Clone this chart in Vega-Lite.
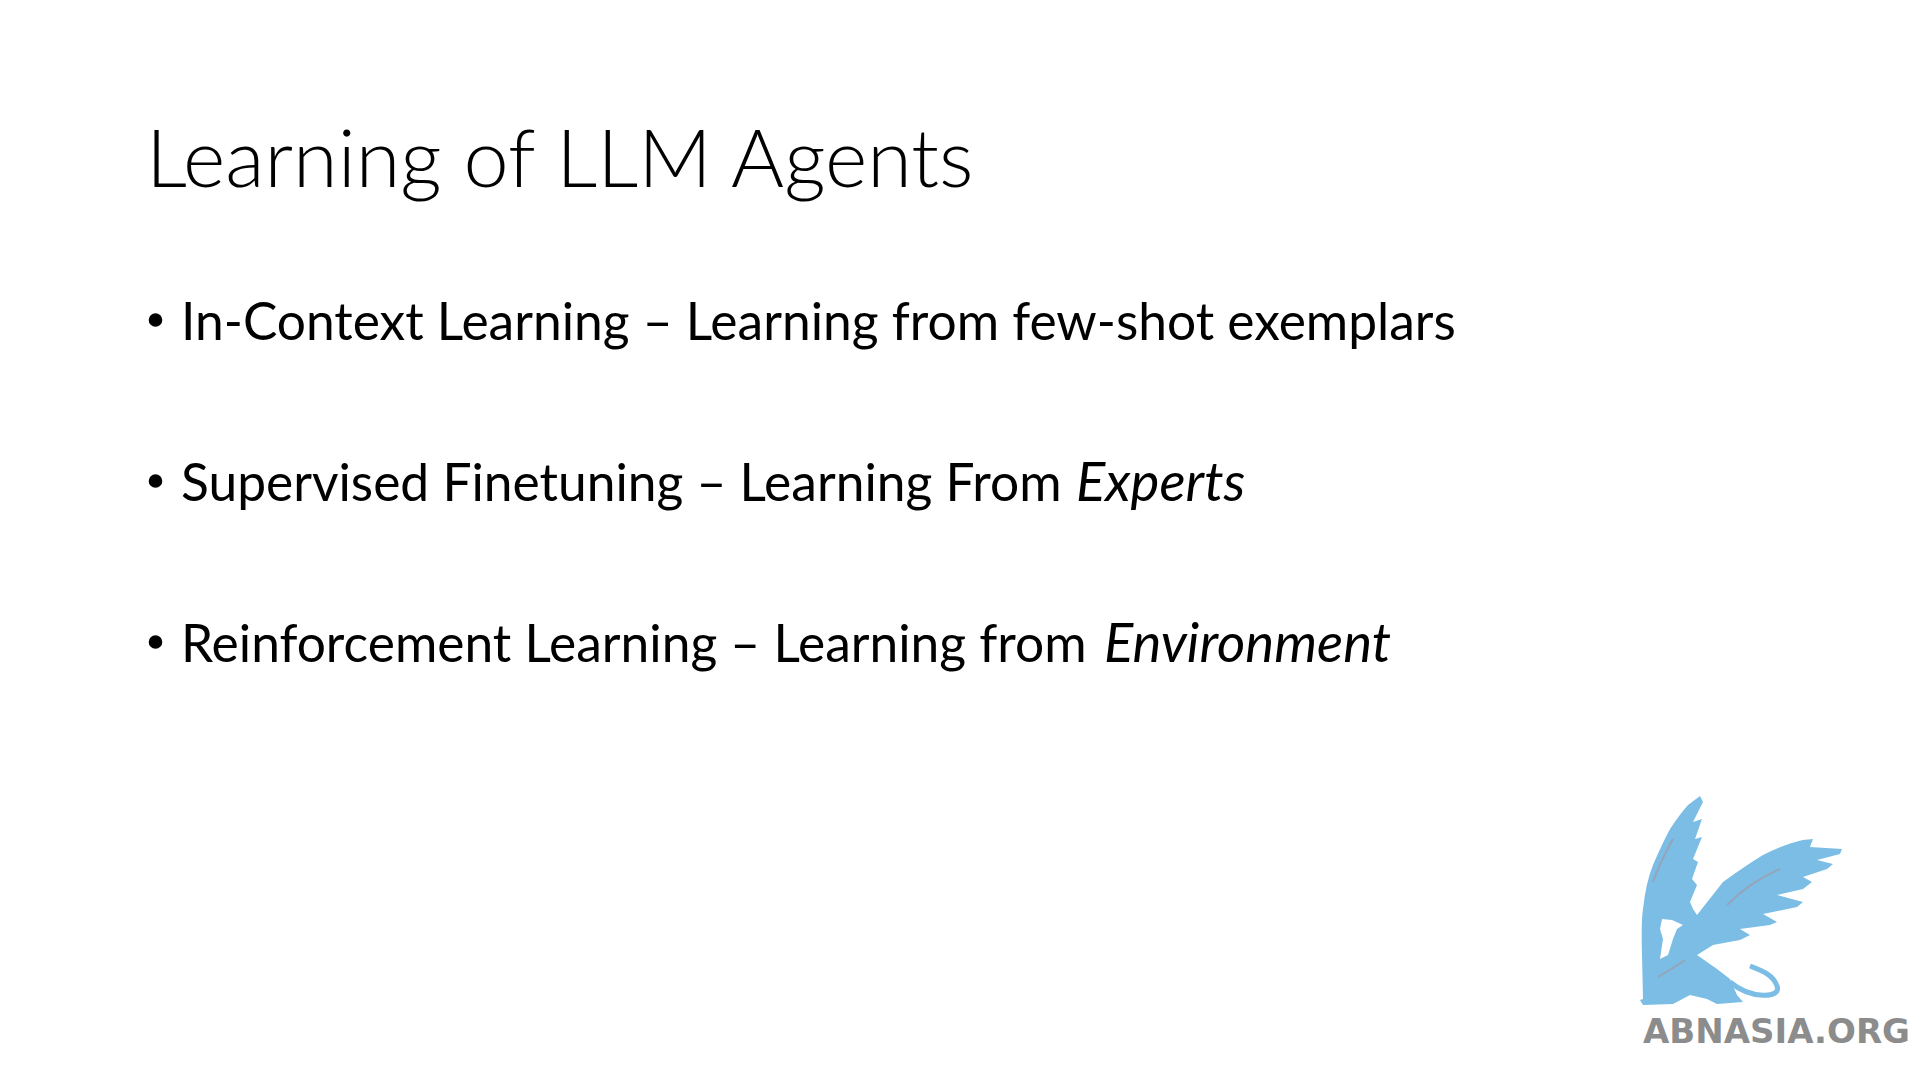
{
  "$schema": "https://vega.github.io/schema/vega-lite/v6.json",
  "width": 1920,
  "height": 1080,
  "autosize": {"type": "fit", "contains": "padding"},
  "padding": 0,
  "background": "#ffffff",
  "config": {"view": {"stroke": null}},
  "data": {
    "values": [
      {"kind": "title", "t": "Learning of LLM Agents", "x": 146, "y": 187},
      {"kind": "bullet", "t": "•", "x": 155.5, "y": 320},
      {"kind": "bullet", "t": "•", "x": 155.5, "y": 481},
      {"kind": "bullet", "t": "•", "x": 155.5, "y": 642},
      {"kind": "body", "t": "In-Context Learning – Learning from few-shot exemplars", "x": 181, "y": 340},
      {"kind": "body", "t": "Supervised Finetuning – Learning From", "x": 181, "y": 501},
      {"kind": "italic", "t": "Experts", "x": 1076, "y": 501},
      {"kind": "body", "t": "Reinforcement Learning – Learning from", "x": 181, "y": 662},
      {"kind": "italic", "t": "Environment", "x": 1104, "y": 662},
      {"kind": "wm", "t": "ABNASIA.ORG", "x": 1643, "y": 1043},
      {"kind": "logo", "t": "griffin", "x": 1740, "y": 902},
      {"kind": "tail", "t": "tail", "x": 1740, "y": 902},
      {"kind": "head", "t": "head", "x": 1740, "y": 902},
      {"kind": "streak", "t": "streak", "x": 1740, "y": 902}
    ]
  },
  "encoding": {
    "x": {"field": "x", "type": "quantitative", "scale": {"domain": [0, 1920], "nice": false, "zero": false}, "axis": null},
    "y": {"field": "y", "type": "quantitative", "scale": {"domain": [1080, 0], "nice": false, "zero": false}, "axis": null}
  },
  "layer": [
    {
      "transform": [{"filter": "datum.kind == 'logo'"}],
      "mark": {"type": "point", "filled": true, "fill": "#7bbde4", "opacity": 1, "strokeWidth": 0, "size": 40000,
        "shape": "M -0.97 0.97 L -0.98 0.53 Q -0.99 0.2 -0.97 0.07 Q -0.94 -0.2 -0.87 -0.37 Q -0.78 -0.58 -0.70 -0.73 Q -0.6 -0.88 -0.52 -0.97 L -0.40 -1.06 L -0.37 -1.00 L -0.47 -0.80 L -0.38 -0.83 L -0.45 -0.63 L -0.38 -0.65 L -0.47 -0.43 L -0.42 -0.40 L -0.48 -0.23 L -0.43 -0.17 L -0.50 0 L -0.47 0.07 L -0.43 0.13 L -0.17 -0.20 Q 0.05 -0.36 0.23 -0.47 Q 0.45 -0.58 0.63 -0.62 L 0.73 -0.63 L 0.70 -0.55 L 1.02 -0.53 L 1.00 -0.48 L 0.77 -0.42 L 0.93 -0.38 L 0.87 -0.33 L 0.63 -0.25 L 0.72 -0.20 L 0.63 -0.13 L 0.37 -0.07 L 0.63 0 L 0.57 0.05 L 0.23 0.12 L 0.37 0.20 L 0.30 0.23 L 0 0.27 L 0.10 0.33 L 0 0.38 L -0.27 0.43 L -0.43 0.53 L -0.23 0.67 L -0.10 0.77 L -0.03 0.93 L 0.03 1.00 L -0.23 1.02 L -0.33 0.97 L -0.50 0.93 L -0.67 1.02 L -0.97 1.03 L -1.00 0.98 Z"}
    },
    {
      "transform": [{"filter": "datum.kind == 'tail'"}],
      "mark": {"type": "point", "filled": false, "stroke": "#7bbde4", "strokeWidth": 5, "opacity": 1, "size": 40000,
        "shape": "M -0.10 0.80 C 0.10 0.97 0.42 0.97 0.37 0.84 C 0.33 0.72 0.20 0.68 0.10 0.64"}
    },
    {
      "transform": [{"filter": "datum.kind == 'head'"}],
      "mark": {"type": "point", "filled": true, "fill": "#ffffff", "strokeWidth": 0, "opacity": 1, "size": 40000,
        "shape": "M -0.78 0.17 L -0.68 0.18 L -0.57 0.23 L -0.63 0.27 L -0.67 0.37 L -0.72 0.53 L -0.80 0.57 L -0.77 0.37 L -0.80 0.27 Z"}
    },
    {
      "transform": [{"filter": "datum.kind == 'streak'"}],
      "mark": {"type": "point", "filled": false, "stroke": "#9d9fb0", "strokeWidth": 2, "opacity": 0.8, "size": 40000,
        "shape": "M -0.67 -0.63 Q -0.80 -0.40 -0.87 -0.20 M -0.13 0.03 Q 0.1 -0.2 0.40 -0.33 M -0.82 0.75 Q -0.65 0.65 -0.55 0.58"}
    },
    {
      "transform": [{"filter": "datum.kind == 'title'"}],
      "mark": {"type": "text", "align": "left", "baseline": "alphabetic", "font": "Lato", "fontWeight": 300, "fontSize": 81, "color": "#000000"},
      "encoding": {"text": {"field": "t"}}
    },
    {
      "transform": [{"filter": "datum.kind == 'bullet'"}],
      "mark": {"type": "point", "shape": "circle", "filled": true, "fill": "#000000", "opacity": 1, "strokeWidth": 0, "size": 185}
    },
    {
      "transform": [{"filter": "datum.kind == 'body'"}],
      "mark": {"type": "text", "align": "left", "baseline": "alphabetic", "font": "Lato", "fontSize": 51.5, "color": "#000000"},
      "encoding": {"text": {"field": "t"}}
    },
    {
      "transform": [{"filter": "datum.kind == 'italic'"}],
      "mark": {"type": "text", "align": "left", "baseline": "alphabetic", "font": "Lato", "fontStyle": "italic", "fontSize": 54.5, "color": "#000000"},
      "encoding": {"text": {"field": "t"}}
    },
    {
      "transform": [{"filter": "datum.kind == 'wm'"}],
      "mark": {"type": "text", "align": "left", "baseline": "alphabetic", "font": "DejaVu Sans", "fontWeight": "bold", "fontSize": 34, "color": "#8c8c8c"},
      "encoding": {"text": {"field": "t"}}
    }
  ]
}
